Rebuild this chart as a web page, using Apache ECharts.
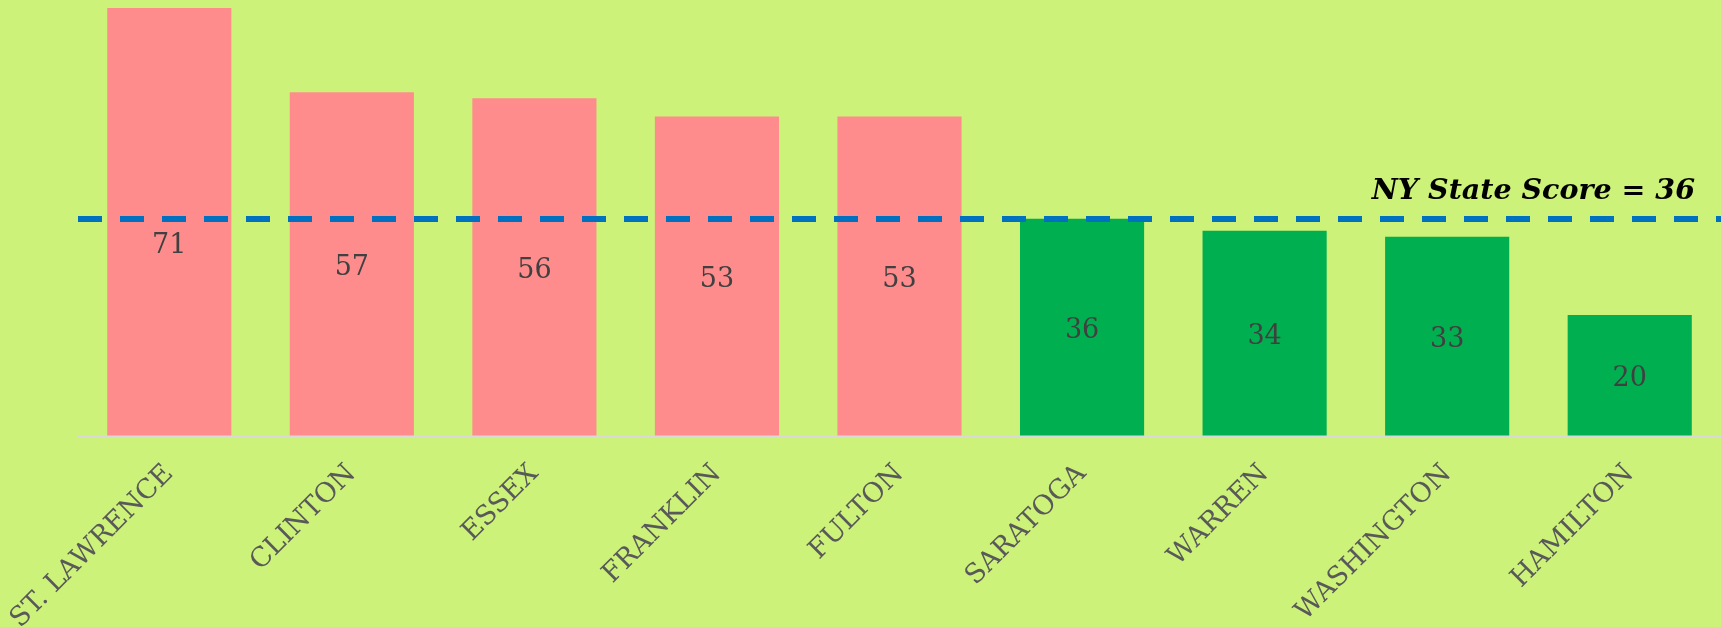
<!DOCTYPE html>
<html><head><meta charset="utf-8">
<script src="https://cdn.jsdelivr.net/npm/echarts@6/dist/echarts.min.js"></script>
<style>html,body{margin:0;padding:0;background:#CCF279;} #c{width:1721px;height:627px;}</style>
</head><body><div id="c"></div>
<script>
const categories = ['ST. LAWRENCE','CLINTON','ESSEX','FRANKLIN','FULTON','SARATOGA','WARREN','WASHINGTON','HAMILTON'];
const scores = [71, 57, 56, 53, 53, 36, 34, 33, 20];
const stateScore = 36;
const stateLabel = 'NY State Score = ' + stateScore;

const aboveColor = '#FF8C8C';
const belowColor = '#00B050';
const serif = "Georgia, 'DejaVu Serif', serif";

const chart = echarts.init(document.getElementById('c'), null, {renderer: 'canvas'});
chart.setOption({
  animation: false,
  backgroundColor: '#CCF279',
  grid: {left: 78, right: 0, top: 8, bottom: 191.5, outerBoundsMode: 'none', containLabel: false},
  xAxis: {
    type: 'category',
    data: categories,
    axisLine: {lineStyle: {color: '#D9D9D9', width: 2}},
    axisTick: {show: false},
    axisLabel: {rotate: 45, margin: 34, color: '#595959', fontFamily: serif, fontSize: 27, interval: 0}
  },
  yAxis: {type: 'value', min: 0, max: 'dataMax', show: false, splitLine: {show: false}},
  series: [{
    type: 'bar',
    barCategoryGap: '32%',
    data: scores.map(v => ({
      value: v,
      itemStyle: {color: v > stateScore ? aboveColor : belowColor},
      // labels whose centre would sit on the reference line are nudged below it
      label: Math.abs(v / 2 - stateScore) < 3 ? {offset: [0, 24]} : undefined
    })),
    label: {show: true, position: 'inside', offset: [0, 4], color: '#404040', fontFamily: serif, fontSize: 27},
    markLine: {
      silent: true,
      symbol: 'none',
      lineStyle: {color: '#0070C0', width: 6, type: [24, 18]},
      label: {
        show: true, position: 'insideEndTop', formatter: stateLabel, distance: [26, 13],
        fontFamily: serif, fontStyle: 'italic', fontWeight: 'bold', fontSize: 28.5, color: '#000'
      },
      data: [{yAxis: stateScore}]
    }
  }]
});
</script></body></html>
